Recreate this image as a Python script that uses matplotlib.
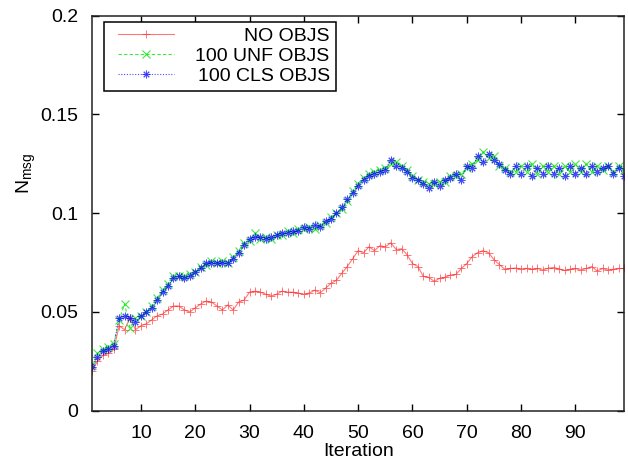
import matplotlib
matplotlib.use("Agg")
import matplotlib.pyplot as plt
from matplotlib.lines import Line2D
from matplotlib.legend_handler import HandlerLine2D

iterations = list(range(1, 100))

no_objs = [0.020, 0.025, 0.028, 0.029, 0.031, 0.043, 0.041, 0.047, 0.041, 0.043,
           0.044, 0.046, 0.048, 0.049, 0.051, 0.053, 0.053, 0.051, 0.050, 0.052,
           0.054, 0.0555, 0.055, 0.053, 0.051, 0.0535, 0.051, 0.055, 0.056, 0.060,
           0.0605, 0.060, 0.059, 0.058, 0.059, 0.0605, 0.060, 0.060, 0.0595, 0.059,
           0.0595, 0.061, 0.0597, 0.062, 0.0645, 0.066, 0.0696, 0.073, 0.077, 0.081,
           0.080, 0.083, 0.081, 0.0835, 0.083, 0.085, 0.0816, 0.082, 0.079, 0.0745,
           0.073, 0.068, 0.0675, 0.0655, 0.067, 0.0675, 0.0687, 0.069, 0.072, 0.0745,
           0.078, 0.080, 0.081, 0.080, 0.0765, 0.074, 0.0716, 0.072, 0.0722, 0.0718,
           0.072, 0.0715, 0.072, 0.0712, 0.0722, 0.0725, 0.0718, 0.071, 0.0715, 0.072,
           0.0712, 0.072, 0.073, 0.0707, 0.072, 0.0712, 0.0716, 0.072, 0.072]

unf_objs = [0.023, 0.029, 0.031, 0.032, 0.034, 0.046, 0.054, 0.042, 0.047, 0.048,
            0.050, 0.053, 0.057, 0.061, 0.064, 0.068, 0.068, 0.068, 0.069, 0.070,
            0.073, 0.074, 0.076, 0.075, 0.076, 0.075, 0.078, 0.081, 0.085, 0.086,
            0.090, 0.087, 0.088, 0.087, 0.089, 0.089, 0.091, 0.090, 0.092, 0.092,
            0.093, 0.092, 0.094, 0.095, 0.098, 0.100, 0.102, 0.106, 0.111, 0.115,
            0.118, 0.120, 0.121, 0.122, 0.123, 0.125, 0.126, 0.124, 0.122, 0.119,
            0.117, 0.116, 0.115, 0.115, 0.116, 0.116, 0.119, 0.119, 0.120, 0.123,
            0.125, 0.127, 0.131, 0.128, 0.129, 0.124, 0.123, 0.121, 0.121, 0.124,
            0.121, 0.125, 0.120, 0.124, 0.121, 0.124, 0.120, 0.124, 0.121, 0.125,
            0.121, 0.125, 0.121, 0.124, 0.122, 0.124, 0.121, 0.124, 0.122]

cls_objs = [0.022, 0.027, 0.030, 0.031, 0.033, 0.047, 0.048, 0.047, 0.045, 0.048,
            0.050, 0.052, 0.056, 0.060, 0.063, 0.067, 0.068, 0.067, 0.068, 0.070,
            0.072, 0.075, 0.075, 0.075, 0.075, 0.075, 0.077, 0.080, 0.084, 0.087,
            0.088, 0.088, 0.087, 0.088, 0.089, 0.090, 0.090, 0.091, 0.091, 0.093,
            0.092, 0.094, 0.093, 0.096, 0.097, 0.100, 0.103, 0.107, 0.110, 0.114,
            0.117, 0.119, 0.120, 0.121, 0.122, 0.127, 0.124, 0.123, 0.121, 0.118,
            0.117, 0.115, 0.113, 0.116, 0.114, 0.117, 0.118, 0.120, 0.117, 0.124,
            0.123, 0.129, 0.126, 0.130, 0.127, 0.125, 0.122, 0.120, 0.124, 0.120,
            0.124, 0.119, 0.123, 0.120, 0.124, 0.120, 0.123, 0.119, 0.124, 0.120,
            0.123, 0.120, 0.124, 0.121, 0.123, 0.124, 0.120, 0.123, 0.119]

labels = ["NO OBJS", "100 UNF OBJS", "100 CLS OBJS"]
x_ticks = [10, 20, 30, 40, 50, 60, 70, 80, 90]
y_ticks = [0, 0.05, 0.1, 0.15, 0.2]
y_ticklabels = ["0", "0.05", "0.1", "0.15", "0.2"]

plt.rcParams['font.family'] = ['Liberation Sans', 'DejaVu Sans']
FS = 14

fig = plt.figure(figsize=(6.28, 4.65), dpi=100)
ax = fig.add_axes([0.1465, 0.1168, 0.8476, 0.8494])

ax.plot(iterations, no_objs, color='#ff2020', linestyle='-', linewidth=0.8,
        marker='+', markersize=6, markeredgewidth=0.7, alpha=0.6, label=labels[0])
ax.plot(iterations, unf_objs, color='#00e000', linestyle=(0, (3, 2)), linewidth=0.8,
        marker='x', markersize=5.5, markeredgewidth=0.8, alpha=0.75, label=labels[1])
ax.plot(iterations, cls_objs, color='#0000ff', linestyle=(0, (1, 1.5)), linewidth=0.8,
        marker=(8, 2, 0), markersize=5.5, markeredgewidth=0.7, alpha=0.7, label=labels[2])

ax.set_xlim(1, 99)
ax.set_ylim(0, 0.2)
ax.set_xticks(x_ticks)
ax.set_xticklabels([str(t) for t in x_ticks])
ax.set_yticks(y_ticks)
ax.set_yticklabels(y_ticklabels)
ax.tick_params(direction='in', length=5, width=1, top=True, right=True,
               labelsize=FS, colors='black')
ax.tick_params(axis='x', pad=10)
ax.tick_params(axis='y', pad=10)
for s in ax.spines.values():
    s.set_linewidth(1.1)
    s.set_color('#222222')

ax.set_xlabel("Iteration", fontsize=FS, labelpad=1)
ax.set_ylabel(r"N$_{\mathregular{msg}}$", fontsize=FS)
ax.yaxis.set_label_coords(-0.102, 0.60)

leg = ax.legend(loc='upper left', bbox_to_anchor=(0.0226, 0.985), fontsize=FS,
                frameon=True, fancybox=False, edgecolor='black', framealpha=1,
                handlelength=3.3, handletextpad=1.1, borderpad=0.3,
                labelspacing=0.12, borderaxespad=0.0,
                handler_map={Line2D: HandlerLine2D(xpad=0.42)})
leg.get_frame().set_linewidth(1.1)

fig.canvas.draw()
renderer = fig.canvas.get_renderer()
texts = leg.get_texts()
widths = [t.get_window_extent(renderer).width for t in texts]
maxw = max(widths)
for t, w in zip(texts, widths):
    t.set_position((maxw - w, 0))

fig.savefig("out.png", dpi=100)
